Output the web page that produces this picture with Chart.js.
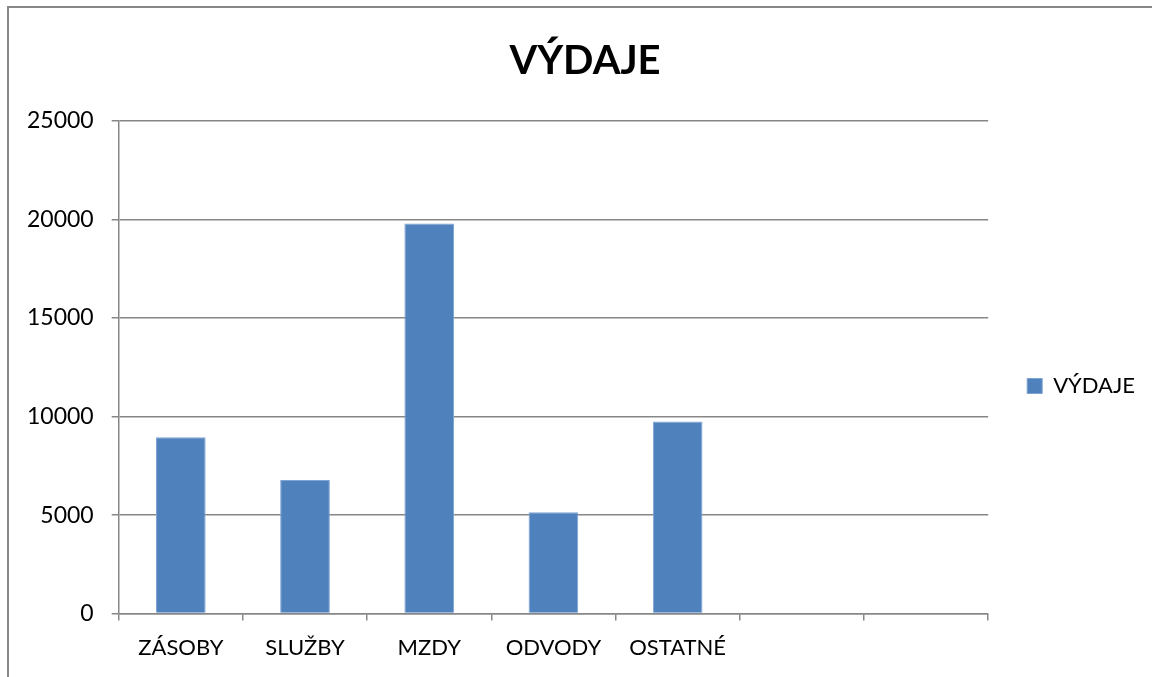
<!DOCTYPE html>
<html>
<head>
<meta charset="utf-8">
<script src="https://cdn.jsdelivr.net/npm/chart.js@4"></script>
<style>
  html, body { margin: 0; padding: 0; background: #fff; overflow: hidden; }
  #wrap { position: relative; width: 1152px; height: 677px; overflow: hidden; }
  #frame { position: absolute; left: 7px; top: 6px; width: 1200px; height: 720px; border: 2px solid #878787; box-sizing: border-box; }
  #c { position: absolute; left: 0; top: 0; }
</style>
</head>
<body>
<div id="wrap">
  <div id="frame"></div>
  <canvas id="c" width="1152" height="677"></canvas>
</div>
<script>
const categories = ['ZÁSOBY', 'SLUŽBY', 'MZDY', 'ODVODY', 'OSTATNÉ', '', ''];
const vydaje = [8950, 6780, 19800, 5140, 9750, null, null];
const seriesName = 'VÝDAJE';
const chartTitle = 'VÝDAJE';
const yTicks = [0, 5000, 10000, 15000, 20000, 25000];

const FONT = 'Lato, "Open Sans", sans-serif';
const GRID = '#878787';

const titleShift = {
  id: 'titleShift',
  afterLayout(chart) {
    if (chart.titleBlock) { chart.titleBlock.left += 16; }
  }
};

new Chart(document.getElementById('c'), {
  type: 'bar',
  plugins: [titleShift],
  data: {
    labels: categories,
    datasets: [{
      label: seriesName,
      data: vydaje,
      backgroundColor: '#4F81BD',
      borderColor: '#7FA3D3',
      borderWidth: 1,
      categoryPercentage: 1.0,
      barPercentage: 0.4
    }]
  },
  options: {
    responsive: false,
    animation: false,
    devicePixelRatio: 1,
    layout: { padding: { left: 9, right: 7, top: 37, bottom: 2 } },
    plugins: {
      title: {
        display: true,
        text: chartTitle,
        color: '#000',
        font: { family: FONT, size: 40, weight: 'bold' },
        padding: { top: 0, bottom: 36 }
      },
      legend: {
        display: true,
        position: 'right',
        title: {
          display: true,
          text: ' ',
          font: { family: FONT, size: 10 },
          padding: { top: 0, bottom: 48 }
        },
        labels: {
          color: '#000',
          font: { family: FONT, size: 22 },
          boxWidth: 15,
          boxHeight: 15,
          padding: 39
        }
      },
      tooltip: { enabled: false }
    },
    scales: {
      x: {
        grid: {
          offset: true,
          drawOnChartArea: false,
          drawTicks: true,
          tickLength: 7,
          color: GRID,
          lineWidth: 1.5
        },
        border: { display: true, color: GRID, width: 1.5 },
        ticks: {
          color: '#000',
          font: { family: FONT, size: 22 },
          padding: 14,
          maxRotation: 0,
          autoSkip: false
        }
      },
      y: {
        min: 0,
        max: 25000,
        afterBuildTicks: (axis) => { axis.ticks = yTicks.map(v => ({ value: v })); },
        grid: {
          color: GRID,
          lineWidth: 1.5,
          drawTicks: true,
          tickLength: 7
        },
        border: { display: true, color: GRID, width: 1.5 },
        ticks: {
          color: '#000',
          font: { family: FONT, size: 23 },
          padding: 18,
          callback: (v) => String(v)
        }
      }
    }
  }
});
</script>
</body>
</html>
